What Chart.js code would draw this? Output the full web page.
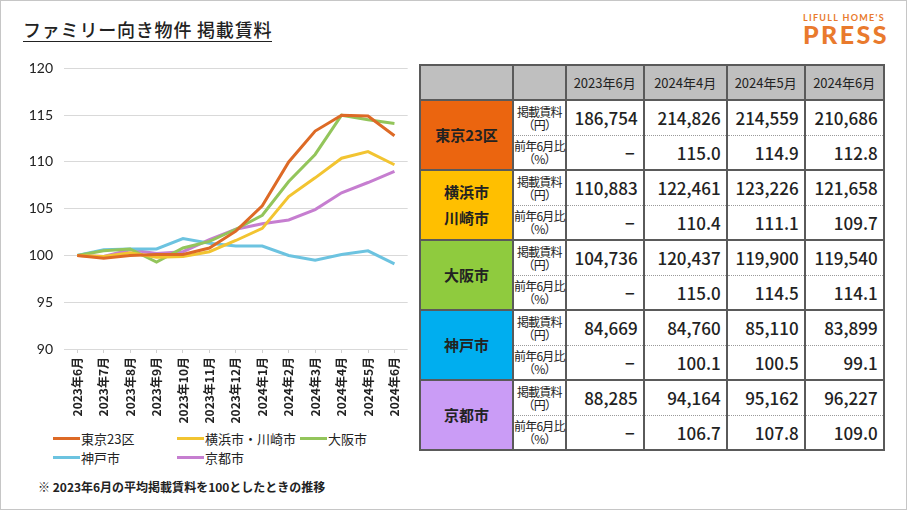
<!DOCTYPE html>
<html lang="ja">
<head>
<meta charset="utf-8">
<script src="https://cdn.jsdelivr.net/npm/chart.js@4"></script>
<style>
  html, body { margin: 0; padding: 0; }
  body {
    width: 907px; height: 510px; position: relative; overflow: hidden;
    background: #fff; font-family: "Noto Sans CJK JP", "Noto Sans", sans-serif; color: #222;
    box-sizing: border-box; border: 1px solid #c6c6c6;
  }
  #title {
    position: absolute; left: 22px; top: 17px; font-size: 18px; font-weight: 500;
    letter-spacing: 0.8px; border-bottom: 1.5px solid #222; line-height: 23px; padding-bottom: 0;
  }
  #logo { position: absolute; left: 802px; top: 11px; color: #e97a2d; font-family: Lato, "DejaVu Sans", sans-serif; font-weight: bold; }
  #logo .s { font-size: 9px; letter-spacing: 1.3px; line-height: 11px; }
  #logo .b { font-size: 25px; letter-spacing: 2.4px; line-height: 22px; font-weight: 900; }
  #chartBox { position: absolute; left: 20px; top: 48px; }
  #legend { position: absolute; left: 52px; top: 428px; display: grid; grid-template-columns: 124px 123px 90px; row-gap: 1px; }
  #legend .it { display: flex; align-items: center; font-size: 13px; height: 18px; white-space: nowrap; }
  #legend .ln { width: 27px; height: 3px; margin-right: 1px; }
  #note { position: absolute; left: 37px; top: 477px; font-size: 12px; font-weight: bold; }
  table { position: absolute; left: 418px; top: 63px; border-collapse: collapse; table-layout: fixed; }
  td, th { border: 2px solid #5a5a5a; padding: 0; }
  th { background: #bfbfbf; font-size: 13px; font-weight: 400; height: 33px; }
  td.city { font-size: 15px; font-weight: bold; text-align: center; line-height: 26px; }
  td.lab { font-size: 12px; line-height: 13px; text-align: center; letter-spacing: -0.8px; white-space: nowrap; }
  td.num { font-size: 17px; font-weight: 500; text-align: right; padding-right: 5px; }
  td.num.dash { padding-right: 8px; }
  tr.a td.lab, tr.a td.num { border-bottom: 1px dotted #9a9a9a; height: 33.5px; }
  tr.b td.lab, tr.b td.num { border-top: 1px dotted #9a9a9a; height: 33.5px; }
</style>
</head>
<body>
<div id="title">ファミリー向き物件 掲載賃料</div>
<div id="logo"><div class="s">LIFULL HOME'S</div><div class="b">PRESS</div></div>
<div id="chartBox"><canvas id="rentChart" width="392" height="375"></canvas></div>
<div id="legend"></div>
<div id="note">※ 2023年6月の平均掲載賃料を100としたときの推移</div>
<table id="tbl"></table>
<script>
var months = ["2023年6月","2023年7月","2023年8月","2023年9月","2023年10月","2023年11月","2023年12月",
              "2024年1月","2024年2月","2024年3月","2024年4月","2024年5月","2024年6月"];
var cities = ["東京23区","横浜市・川崎市","大阪市","神戸市","京都市"];
var lineColors = ["#dd6a26","#f2c431","#93c55b","#6cc3e0","#c67ed0"];
var cellColors = ["#eb650f","#ffbf00","#8fcb3e","#00aeef","#ca9cf6"];

var tokyo    = [100, 99.7, 100.0, 100.1, 100.1, 100.8, 102.6, 105.3, 110.0, 113.3, 115.0, 114.9, 112.8];
var yokohama = [100, 99.9, 100.3, 99.8,  99.9,  100.4, 101.6, 102.9, 106.3, 108.3, 110.4, 111.1, 109.7];
var osaka    = [100, 100.5, 100.7, 99.3, 100.8, 101.5, 102.8, 104.3, 107.9, 110.8, 115.0, 114.5, 114.1];
var kobe     = [100, 100.6, 100.7, 100.7, 101.8, 101.3, 101.0, 101.0, 100.0, 99.5, 100.1, 100.5, 99.1];
var kyoto    = [100, 99.9, 100.6, 100.2, 100.4, 101.7, 102.8, 103.4, 103.8, 104.9, 106.7, 107.8, 109.0];

var yTicks = [90, 95, 100, 105, 110, 115, 120];

// table
var tableCols = ["2023年6月","2024年4月","2024年5月","2024年6月"];
var tableCities = [["東京23区"],["横浜市","川崎市"],["大阪市"],["神戸市"],["京都市"]];
var rentTokyo    = ["186,754","214,826","214,559","210,686"];
var rentYokohama = ["110,883","122,461","123,226","121,658"];
var rentOsaka    = ["104,736","120,437","119,900","119,540"];
var rentKobe     = ["84,669","84,760","85,110","83,899"];
var rentKyoto    = ["88,285","94,164","95,162","96,227"];
var ratioTokyo    = ["−","115.0","114.9","112.8"];
var ratioYokohama = ["−","110.4","111.1","109.7"];
var ratioOsaka    = ["−","115.0","114.5","114.1"];
var ratioKobe     = ["−","100.1","100.5","99.1"];
var ratioKyoto    = ["−","106.7","107.8","109.0"];

var series = [tokyo, yokohama, osaka, kobe, kyoto];
var rents = [rentTokyo, rentYokohama, rentOsaka, rentKobe, rentKyoto];
var ratios = [ratioTokyo, ratioYokohama, ratioOsaka, ratioKobe, ratioKyoto];

var datasets = [];
for (var i = 0; i < cities.length; i++) {
  datasets.push({
    label: cities[i], data: series[i], borderColor: lineColors[i], backgroundColor: lineColors[i],
    borderWidth: 3, pointRadius: 0, tension: 0, fill: false
  });
}

var ctx = document.getElementById("rentChart").getContext("2d");
new Chart(ctx, {
  type: 'line',
  data: { labels: months, datasets: datasets },
  options: {
    responsive: false,
    animation: false,
    layout: { padding: { top: 0, right: 4, left: 0, bottom: 0 } },
    plugins: { legend: { display: false }, tooltip: { enabled: false } },
    scales: {
      x: {
        offset: true,
        grid: { display: true, drawOnChartArea: false, drawTicks: true, tickLength: 4, color: "#d0d0d0" },
        border: { display: false },
        ticks: {
          maxRotation: 90, minRotation: 90, padding: 4, autoSkip: false,
          color: "#222", font: { family: "Noto Sans CJK JP", size: 12, weight: "bold" }
        },
        afterFit: function (s) { s.height = 75; }
      },
      y: {
        min: 90, max: 120,
        afterBuildTicks: function (s) { s.ticks = yTicks.map(function (v) { return { value: v }; }); },
        grid: { color: "#d9d9d9", drawTicks: false, lineWidth: 1 },
        border: { display: false },
        ticks: { padding: 11, color: "#222", font: { family: "Lato", size: 14 } },
        afterFit: function (s) { s.width = 43; }
      }
    }
  }
});

// legend built from the dataset arrays
var lg = document.getElementById("legend");
cities.forEach(function (name, i) {
  var d = document.createElement("div");
  d.className = "it";
  d.innerHTML = '<span class="ln" style="background:' + lineColors[i] + '"></span>' + name;
  lg.appendChild(d);
});

// table
var tbl = document.getElementById("tbl");
var colW = [93, 52, 78, 83, 78, 79];
var html = "<colgroup>" + colW.map(function (w) { return '<col style="width:' + w + 'px">'; }).join("") + "</colgroup>";
html += "<tr><th></th><th></th>" + tableCols.map(function (c) { return "<th>" + c + "</th>"; }).join("") + "</tr>";
function numCell(v) { return '<td class="num' + (v === "−" ? ' dash' : '') + '">' + v + '</td>'; }
for (var k = 0; k < tableCities.length; k++) {
  html += '<tr class="a"><td class="city" rowspan="2" style="background:' + cellColors[k] + '">' + tableCities[k].join("<br>") + '</td>' +
          '<td class="lab">掲載賃料<br>（円）</td>' + rents[k].map(numCell).join("") + '</tr>';
  html += '<tr class="b"><td class="lab">前年6月比<br>（%）</td>' + ratios[k].map(numCell).join("") + '</tr>';
}
tbl.innerHTML = html;
</script>
</body>
</html>
